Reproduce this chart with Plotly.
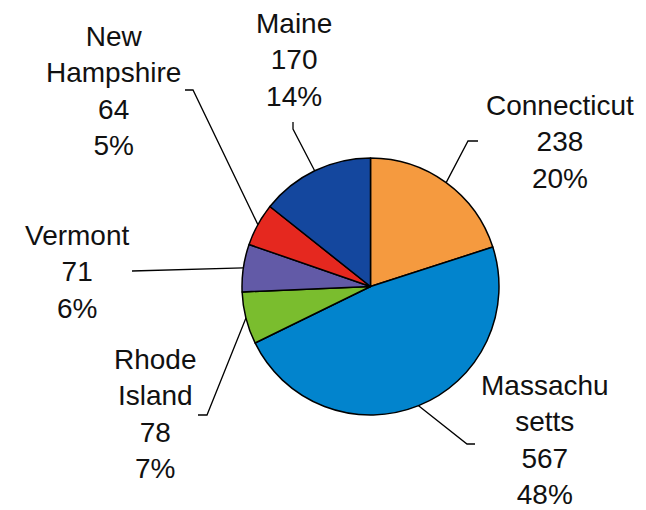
import math
import plotly.graph_objects as go

# ---- data ----
states = ["Connecticut", "Massachusetts", "Rhode Island", "Vermont", "New Hampshire", "Maine"]
values = [238, 567, 78, 71, 64, 170]
label_text = ["Connecticut", "Massachu<br>setts", "Rhode<br>Island", "Vermont", "New<br>Hampshire", "Maine"]
colors = ["#F59A3F", "#0284CD", "#7ABD2E", "#625AA7", "#E5281F", "#14479E"]

# ---- layout (pixels) ----
W, H = 646, 510
CX, CY, R = 370.5, 286.5, 128.5
FONT = "Liberation Sans, Arial, sans-serif"
FS = 28

# label block centre and leader elbow points (pixels) per state
label_pos = {
    "Connecticut": (560, 142),
    "Massachusetts": (545, 440),
    "Rhode Island": (155, 414),
    "Vermont": (77, 272),
    "New Hampshire": (113, 91),
    "Maine": (294, 60),
}
leader_pts = {
    "Connecticut": [(478, 141), (468, 141)],
    "Massachusetts": [(475, 444), (467, 444)],
    "Rhode Island": [(198, 415), (207, 415)],
    "Vermont": [(132, 271)],
    "New Hampshire": [(185, 90), (193, 90)],
    "Maine": [(293, 122), (293, 129)],
}


def px(x):
    return x / W


def py(y):
    return 1 - y / H


fig = go.Figure(go.Pie(
    labels=states,
    values=values,
    sort=False,
    direction="clockwise",
    rotation=0,
    textinfo="none",
    hoverinfo="label+value+percent",
    marker=dict(colors=colors, line=dict(color="#000000", width=1.5)),
    domain=dict(x=[px(CX - R), px(CX + R)], y=[py(CY + R), py(CY - R)]),
    showlegend=False,
))

total = sum(values)
annotations = []
shapes = []
cum = 0.0
for s, v, t in zip(states, values, label_text):
    mid = (cum + v / 2) / total * 2 * math.pi
    cum += v
    ex = CX + R * math.sin(mid)
    ey = CY - R * math.cos(mid)
    pct = round(v / total * 100)
    lx, ly = label_pos[s]
    annotations.append(dict(
        x=px(lx), y=py(ly), xref="paper", yref="paper",
        text=f"{t}<br>{v}<br>{pct}%", showarrow=False,
        xanchor="center", yanchor="middle", align="center",
        font=dict(family=FONT, size=FS, color="#111111"),
    ))
    pts = leader_pts[s] + [(ex, ey)]
    path = "M " + " L ".join(f"{px(x)},{py(y)}" for x, y in pts)
    shapes.append(dict(type="path", path=path, xref="paper", yref="paper",
                       line=dict(color="#000000", width=1.3)))

fig.update_layout(
    width=W, height=H,
    margin=dict(l=0, r=0, t=0, b=0),
    paper_bgcolor="white", plot_bgcolor="white",
    annotations=annotations,
    shapes=shapes,
)

fig.write_html("out.html")
